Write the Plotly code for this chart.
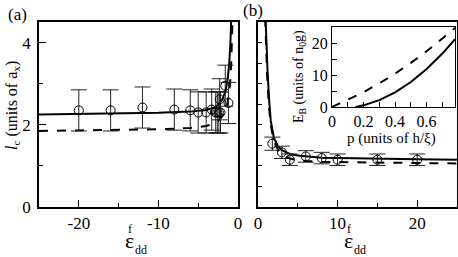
import plotly.graph_objects as go

# ---- data ----
a_x = [-20, -16, -12, -8, -6, -5, -4, -3.3, -2.8, -2.6, -2.4, -2.2, -2.3, -1.6, -1.2]
a_y = [2.35, 2.35, 2.42, 2.37, 2.35, 2.3, 2.3, 2.37, 2.3, 2.3, 2.3, 2.3, 2.62, 2.95, 2.53]
a_err = [0.5, 0.5, 0.5, 0.5, 0.5, 0.5, 0.5, 0.5, 0.5, 0.5, 0.5, 0.5, 0.5, 0.5, 0.5]

a_solid_x = [-25, -20, -15, -10, -6, -4, -3, -2.5, -2, -1.6, -1.3, -1.1, -0.95, -0.85]
a_solid_y = [2.25, 2.26, 2.27, 2.29, 2.32, 2.36, 2.42, 2.48, 2.6, 2.8, 3.1, 3.5, 4.0, 4.6]
a_dash_x = [-25, -20, -15, -10, -6, -4, -3, -2.5, -2, -1.5, -1.2, -1.0, -0.85, -0.75, -0.68]
a_dash_y = [1.85, 1.86, 1.87, 1.89, 1.92, 1.97, 2.03, 2.1, 2.2, 2.38, 2.65, 3.0, 3.5, 4.0, 4.6]

b_x = [1.8, 3, 4, 6, 8, 10, 15, 20]
b_y = [1.54, 1.33, 1.15, 1.23, 1.19, 1.15, 1.15, 1.15]
b_err = [0.16, 0.15, 0.14, 0.14, 0.14, 0.14, 0.14, 0.14]

b_solid_x = [0.95, 1.05, 1.2, 1.4, 1.6, 2, 2.5, 3, 4, 5, 6, 8, 10, 15, 20, 25]
b_solid_y = [4.6, 4.0, 3.3, 2.6, 2.1, 1.68, 1.48, 1.38, 1.29, 1.25, 1.23, 1.2, 1.19, 1.17, 1.16, 1.15]
b_dash_x = [0.9, 1.0, 1.15, 1.35, 1.6, 2, 2.5, 3, 4, 5, 6, 8, 10, 15, 20, 25]
b_dash_y = [4.6, 4.0, 3.2, 2.5, 2.0, 1.6, 1.4, 1.28, 1.18, 1.14, 1.12, 1.1, 1.09, 1.08, 1.07, 1.06]

in_dash_p = [0, 0.1, 0.2, 0.3, 0.4, 0.5, 0.6, 0.7, 0.78]
in_dash_e = [0, 2.2, 4.6, 7.4, 10.4, 13.8, 17.4, 21.4, 24.7]
in_solid_p = [0.15, 0.2, 0.3, 0.4, 0.5, 0.6, 0.7, 0.78]
in_solid_e = [0, 0.52, 2.15, 4.6, 7.8, 11.9, 16.7, 21.2]

a_ticks = [-20, -10, 0]
a_ticktext = ["-20", "-10", "0"]
b_ticks = [0, 10, 20]
y_ticks = [0, 2, 4]
in_xticks = [0, 0.1, 0.2, 0.3, 0.4, 0.5, 0.6, 0.7]
in_xticktext = ["0", " ", "0.2", " ", "0.4", " ", "0.6", " "]
in_yticks = [0, 5, 10, 15, 20]
in_yticktext = ["0", " ", "10", " ", "20"]

SERIF = "Liberation Serif"
fig = go.Figure()

err_style = dict(type="data", visible=True, color="#222", thickness=1, width=8)
mk = dict(symbol="circle-open", size=9, color="black", line=dict(width=1))

fig.add_trace(go.Scatter(x=a_solid_x, y=a_solid_y, mode="lines", line=dict(color="black", width=2),
                         xaxis="x", yaxis="y", showlegend=False))
fig.add_trace(go.Scatter(x=a_dash_x, y=a_dash_y, mode="lines", line=dict(color="black", width=2, dash="dash"),
                         xaxis="x", yaxis="y", showlegend=False))
fig.add_trace(go.Scatter(x=a_x, y=a_y, mode="markers", marker=mk, error_y=dict(array=a_err, **err_style),
                         xaxis="x", yaxis="y", showlegend=False))

fig.add_trace(go.Scatter(x=b_solid_x, y=b_solid_y, mode="lines", line=dict(color="black", width=2),
                         xaxis="x2", yaxis="y2", showlegend=False))
fig.add_trace(go.Scatter(x=b_dash_x, y=b_dash_y, mode="lines", line=dict(color="black", width=2, dash="dash"),
                         xaxis="x2", yaxis="y2", showlegend=False))
fig.add_trace(go.Scatter(x=b_x, y=b_y, mode="markers", marker=mk, error_y=dict(array=b_err, **err_style),
                         xaxis="x2", yaxis="y2", showlegend=False))

fig.add_trace(go.Scatter(x=in_solid_p, y=in_solid_e, mode="lines", line=dict(color="black", width=2),
                         xaxis="x3", yaxis="y3", showlegend=False))
fig.add_trace(go.Scatter(x=in_dash_p, y=in_dash_e, mode="lines", line=dict(color="black", width=2, dash="dash"),
                         xaxis="x3", yaxis="y3", showlegend=False))

ax_common = dict(showline=True, mirror=True, linecolor="black", linewidth=1.5, ticks="inside",
                 tickcolor="black", showgrid=False, zeroline=False, automargin=False,
                 tickfont=dict(family=SERIF, size=17, color="black"))
in_common = {**ax_common, "tickfont": dict(family=SERIF, size=16, color="black"), "linewidth": 1.2}

L, R, T, B = 39, 1, 22, 50
W, H = 458, 257
pw, ph = W - L - R, H - T - B


def px(x):
    return (x - L) / pw


def py(y):
    return (H - B - y) / ph


fig.update_layout(
    width=W, height=H, margin=dict(l=L, r=R, t=T, b=B, pad=0),
    plot_bgcolor="white", paper_bgcolor="white",
    font=dict(family=SERIF, color="black"),
    xaxis=dict(domain=[0, px(238)], range=[-25, 0], tickvals=a_ticks, ticktext=a_ticktext, ticklen=7,
               minor=dict(tickvals=[-15, -5], ticks="inside", ticklen=4, tickcolor="black"), **ax_common),
    yaxis=dict(domain=[0, 1], range=[0, 4.5], tickvals=y_ticks, ticklen=7, ticklabelstandoff=3,
               minor=dict(tickvals=[1, 3], ticks="inside", ticklen=4, tickcolor="black"), **ax_common),
    xaxis2=dict(domain=[px(258), 1], range=[0, 25], tickvals=b_ticks, ticklen=7, anchor="y2",
                minor=dict(tickvals=[5, 15], ticks="inside", ticklen=4, tickcolor="black"), **ax_common),
    yaxis2=dict(domain=[0, 1], range=[0, 4.5], tickvals=[0.5, 1, 1.5, 2, 2.5, 3, 3.5, 4],
                showticklabels=False, ticklen=4, anchor="x2", **ax_common),
    xaxis3=dict(domain=[px(332), px(455)], range=[0, 0.78], anchor="y3",
                tickvals=in_xticks, ticktext=in_xticktext, ticklen=5, **in_common),
    yaxis3=dict(domain=[py(107), py(27)], range=[0, 25], anchor="x3",
                tickvals=in_yticks, ticktext=in_yticktext, ticklen=5, **in_common),
)

ann = []


def add(text, x, y, size, angle=0):
    ann.append(dict(text=text, x=px(x), y=py(y), xref="paper", yref="paper", showarrow=False,
                    textangle=angle, xanchor="center", yanchor="middle",
                    font=dict(family=SERIF, size=size, color="black")))


add("(a)", 17, 14, 17)
add("(b)", 253, 10, 17)
add("<i>l</i><sub>c</sub> (units of a<sub>x</sub>)", 12, 106, 16, -90)
for cx in (129, 348):
    add("ε", cx, 241, 22)
    add("f", cx + 1, 229, 12)
    add("dd", cx + 12, 250, 12)
add("E<sub>B</sub> (units of n<sub>0</sub>g)", 299, 77, 14, -90)
add("p (units of h/ξ)", 391, 138, 15)

fig.update_layout(annotations=ann)
fig.write_html("out.html", config={"displayModeBar": False},
               post_script="document.body.style.margin='0';document.body.style.overflow='hidden';")
